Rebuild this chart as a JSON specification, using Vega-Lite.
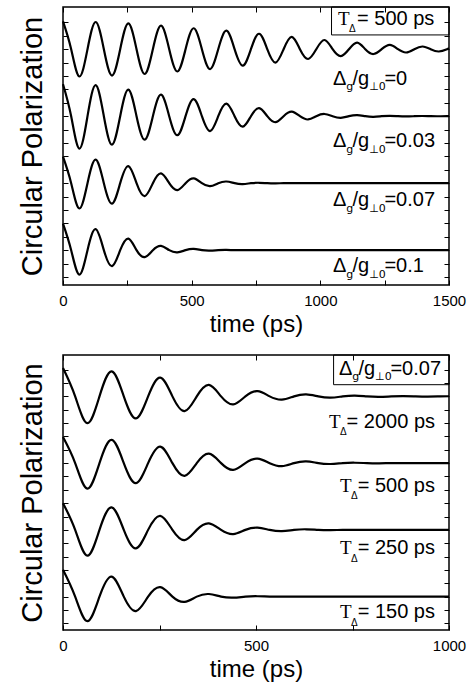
{
  "$schema": "https://vega.github.io/schema/vega-lite/v6.json",
  "background": "white",
  "padding": {"left": 17, "right": 5, "top": 5, "bottom": 5},
  "spacing": 16,
  "config": {
    "view": {"stroke": "black", "strokeWidth": 1.5},
    "axis": {"zindex": 1, "grid": false, "domain": false, "tickColor": "black", "tickWidth": 1, "tickSize": -5}
  },
  "datasets": {
    "curvesTop": [
      {"curve":"d0","time":0,"cp":3.415},{"curve":"d0","time":31.75,"cp":3},{"curve":"d0","time":63.5,"cp":2.593},{"curve":"d0","time":95.25,"cp":3},
      {"curve":"d0","time":127,"cp":3.406},{"curve":"d0","time":158.75,"cp":3},{"curve":"d0","time":190.5,"cp":2.607},{"curve":"d0","time":222.25,"cp":3},
      {"curve":"d0","time":254,"cp":3.385},{"curve":"d0","time":285.75,"cp":3},{"curve":"d0","time":317.5,"cp":2.63},{"curve":"d0","time":349.25,"cp":3},
      {"curve":"d0","time":381,"cp":3.351},{"curve":"d0","time":412.75,"cp":3},{"curve":"d0","time":444.5,"cp":2.667},{"curve":"d0","time":476.25,"cp":3},
      {"curve":"d0","time":508,"cp":3.313},{"curve":"d0","time":539.75,"cp":3},{"curve":"d0","time":571.5,"cp":2.704},{"curve":"d0","time":603.25,"cp":3},
      {"curve":"d0","time":635,"cp":3.276},{"curve":"d0","time":666.75,"cp":3},{"curve":"d0","time":698.5,"cp":2.754},{"curve":"d0","time":730.25,"cp":3},
      {"curve":"d0","time":762,"cp":3.231},{"curve":"d0","time":793.75,"cp":3},{"curve":"d0","time":825.5,"cp":2.799},{"curve":"d0","time":857.25,"cp":3},
      {"curve":"d0","time":889,"cp":3.184},{"curve":"d0","time":920.75,"cp":3},{"curve":"d0","time":952.5,"cp":2.854},{"curve":"d0","time":984.25,"cp":3},
      {"curve":"d0","time":1016,"cp":3.137},{"curve":"d0","time":1047.75,"cp":3},{"curve":"d0","time":1079.5,"cp":2.896},{"curve":"d0","time":1111.25,"cp":3},
      {"curve":"d0","time":1143,"cp":3.099},{"curve":"d0","time":1174.75,"cp":3},{"curve":"d0","time":1206.5,"cp":2.928},{"curve":"d0","time":1238.25,"cp":3},
      {"curve":"d0","time":1270,"cp":3.064},{"curve":"d0","time":1301.75,"cp":3},{"curve":"d0","time":1333.5,"cp":2.951},{"curve":"d0","time":1365.25,"cp":3},
      {"curve":"d0","time":1397,"cp":3.04},{"curve":"d0","time":1428.75,"cp":3},{"curve":"d0","time":1460.5,"cp":2.966},{"curve":"d0","time":1492.25,"cp":3},
      {"curve":"d0","time":1500,"cp":3.012},

      {"curve":"d003","time":0,"cp":2.478},{"curve":"d003","time":31.75,"cp":2},{"curve":"d003","time":63.5,"cp":1.515},{"curve":"d003","time":95.25,"cp":2},
      {"curve":"d003","time":127,"cp":2.463},{"curve":"d003","time":158.75,"cp":2},{"curve":"d003","time":190.5,"cp":1.575},{"curve":"d003","time":222.25,"cp":2},
      {"curve":"d003","time":254,"cp":2.396},{"curve":"d003","time":285.75,"cp":2},{"curve":"d003","time":317.5,"cp":1.649},{"curve":"d003","time":349.25,"cp":2},
      {"curve":"d003","time":381,"cp":2.321},{"curve":"d003","time":412.75,"cp":2},{"curve":"d003","time":444.5,"cp":1.716},{"curve":"d003","time":476.25,"cp":2},
      {"curve":"d003","time":508,"cp":2.254},{"curve":"d003","time":539.75,"cp":2},{"curve":"d003","time":571.5,"cp":1.776},{"curve":"d003","time":603.25,"cp":2},
      {"curve":"d003","time":635,"cp":2.187},{"curve":"d003","time":666.75,"cp":2},{"curve":"d003","time":698.5,"cp":1.843},{"curve":"d003","time":730.25,"cp":2},
      {"curve":"d003","time":762,"cp":2.119},{"curve":"d003","time":793.75,"cp":2},{"curve":"d003","time":825.5,"cp":1.91},{"curve":"d003","time":857.25,"cp":2},
      {"curve":"d003","time":889,"cp":2.067},{"curve":"d003","time":920.75,"cp":2},{"curve":"d003","time":952.5,"cp":1.951},{"curve":"d003","time":984.25,"cp":2},
      {"curve":"d003","time":1016,"cp":2.033},{"curve":"d003","time":1047.75,"cp":2},{"curve":"d003","time":1079.5,"cp":1.976},{"curve":"d003","time":1111.25,"cp":2},
      {"curve":"d003","time":1143,"cp":2.015},{"curve":"d003","time":1174.75,"cp":2},{"curve":"d003","time":1206.5,"cp":1.991},{"curve":"d003","time":1238.25,"cp":2},
      {"curve":"d003","time":1270,"cp":2.006},{"curve":"d003","time":1301.75,"cp":2},{"curve":"d003","time":1333.5,"cp":1.996},{"curve":"d003","time":1365.25,"cp":2},
      {"curve":"d003","time":1397,"cp":2.003},{"curve":"d003","time":1428.75,"cp":2},{"curve":"d003","time":1460.5,"cp":1.999},{"curve":"d003","time":1492.25,"cp":2},
      {"curve":"d003","time":1500,"cp":2},

      {"curve":"d007","time":0,"cp":1.396},{"curve":"d007","time":31.75,"cp":1},{"curve":"d007","time":63.5,"cp":0.622},{"curve":"d007","time":95.25,"cp":1},
      {"curve":"d007","time":127,"cp":1.351},{"curve":"d007","time":158.75,"cp":1},{"curve":"d007","time":190.5,"cp":0.694},{"curve":"d007","time":222.25,"cp":1},
      {"curve":"d007","time":254,"cp":1.254},{"curve":"d007","time":285.75,"cp":1},{"curve":"d007","time":317.5,"cp":0.806},{"curve":"d007","time":349.25,"cp":1},
      {"curve":"d007","time":381,"cp":1.146},{"curve":"d007","time":412.75,"cp":1},{"curve":"d007","time":444.5,"cp":0.896},{"curve":"d007","time":476.25,"cp":1},
      {"curve":"d007","time":508,"cp":1.072},{"curve":"d007","time":539.75,"cp":1},{"curve":"d007","time":571.5,"cp":0.955},{"curve":"d007","time":603.25,"cp":1},
      {"curve":"d007","time":635,"cp":1.025},{"curve":"d007","time":666.75,"cp":1},{"curve":"d007","time":698.5,"cp":0.987},{"curve":"d007","time":730.25,"cp":1},
      {"curve":"d007","time":762,"cp":1.006},{"curve":"d007","time":793.75,"cp":1},{"curve":"d007","time":825.5,"cp":0.997},{"curve":"d007","time":857.25,"cp":1},
      {"curve":"d007","time":889,"cp":1},{"curve":"d007","time":920.75,"cp":1},{"curve":"d007","time":952.5,"cp":1},{"curve":"d007","time":984.25,"cp":1},
      {"curve":"d007","time":1016,"cp":1},{"curve":"d007","time":1047.75,"cp":1},{"curve":"d007","time":1079.5,"cp":1},{"curve":"d007","time":1111.25,"cp":1},
      {"curve":"d007","time":1143,"cp":1},{"curve":"d007","time":1174.75,"cp":1},{"curve":"d007","time":1206.5,"cp":1},{"curve":"d007","time":1238.25,"cp":1},
      {"curve":"d007","time":1270,"cp":1},{"curve":"d007","time":1301.75,"cp":1},{"curve":"d007","time":1333.5,"cp":1},{"curve":"d007","time":1365.25,"cp":1},
      {"curve":"d007","time":1397,"cp":1},{"curve":"d007","time":1428.75,"cp":1},{"curve":"d007","time":1460.5,"cp":1},{"curve":"d007","time":1492.25,"cp":1},
      {"curve":"d007","time":1500,"cp":1},

      {"curve":"d01","time":0,"cp":0.397},{"curve":"d01","time":31.75,"cp":0},{"curve":"d01","time":63.5,"cp":-0.364},{"curve":"d01","time":95.25,"cp":0},
      {"curve":"d01","time":127,"cp":0.313},{"curve":"d01","time":158.75,"cp":0},{"curve":"d01","time":190.5,"cp":-0.239},{"curve":"d01","time":222.25,"cp":0},
      {"curve":"d01","time":254,"cp":0.173},{"curve":"d01","time":285.75,"cp":0},{"curve":"d01","time":317.5,"cp":-0.104},{"curve":"d01","time":349.25,"cp":0},
      {"curve":"d01","time":381,"cp":0.064},{"curve":"d01","time":412.75,"cp":0},{"curve":"d01","time":444.5,"cp":-0.033},{"curve":"d01","time":476.25,"cp":0},
      {"curve":"d01","time":508,"cp":0.018},{"curve":"d01","time":539.75,"cp":0},{"curve":"d01","time":571.5,"cp":-0.007},{"curve":"d01","time":603.25,"cp":0},
      {"curve":"d01","time":635,"cp":0.003},{"curve":"d01","time":666.75,"cp":0},{"curve":"d01","time":698.5,"cp":0},{"curve":"d01","time":730.25,"cp":0},
      {"curve":"d01","time":762,"cp":0},{"curve":"d01","time":793.75,"cp":0},{"curve":"d01","time":825.5,"cp":0},{"curve":"d01","time":857.25,"cp":0},
      {"curve":"d01","time":889,"cp":0},{"curve":"d01","time":920.75,"cp":0},{"curve":"d01","time":952.5,"cp":0},{"curve":"d01","time":984.25,"cp":0},
      {"curve":"d01","time":1016,"cp":0},{"curve":"d01","time":1047.75,"cp":0},{"curve":"d01","time":1079.5,"cp":0},{"curve":"d01","time":1111.25,"cp":0},
      {"curve":"d01","time":1143,"cp":0},{"curve":"d01","time":1174.75,"cp":0},{"curve":"d01","time":1206.5,"cp":0},{"curve":"d01","time":1238.25,"cp":0},
      {"curve":"d01","time":1270,"cp":0},{"curve":"d01","time":1301.75,"cp":0},{"curve":"d01","time":1333.5,"cp":0},{"curve":"d01","time":1365.25,"cp":0},
      {"curve":"d01","time":1397,"cp":0},{"curve":"d01","time":1428.75,"cp":0},{"curve":"d01","time":1460.5,"cp":0},{"curve":"d01","time":1492.25,"cp":0},
      {"curve":"d01","time":1500,"cp":0}
    ],
    "curvesBottom": [
      {"curve":"t2000","time":0,"cp":3.424},{"curve":"t2000","time":31.5,"cp":3},{"curve":"t2000","time":63,"cp":2.598},{"curve":"t2000","time":94.5,"cp":3},
      {"curve":"t2000","time":126,"cp":3.375},{"curve":"t2000","time":157.5,"cp":3},{"curve":"t2000","time":189,"cp":2.67},{"curve":"t2000","time":220.5,"cp":3},
      {"curve":"t2000","time":252,"cp":3.282},{"curve":"t2000","time":283.5,"cp":3},{"curve":"t2000","time":315,"cp":2.778},{"curve":"t2000","time":346.5,"cp":3},
      {"curve":"t2000","time":378,"cp":3.172},{"curve":"t2000","time":409.5,"cp":3},{"curve":"t2000","time":441,"cp":2.88},{"curve":"t2000","time":472.5,"cp":3},
      {"curve":"t2000","time":504,"cp":3.079},{"curve":"t2000","time":535.5,"cp":3},{"curve":"t2000","time":567,"cp":2.951},{"curve":"t2000","time":598.5,"cp":3},
      {"curve":"t2000","time":630,"cp":3.03},{"curve":"t2000","time":661.5,"cp":3},{"curve":"t2000","time":693,"cp":2.981},{"curve":"t2000","time":724.5,"cp":3},
      {"curve":"t2000","time":756,"cp":3.012},{"curve":"t2000","time":787.5,"cp":3},{"curve":"t2000","time":819,"cp":2.993},{"curve":"t2000","time":850.5,"cp":3},
      {"curve":"t2000","time":882,"cp":3.004},{"curve":"t2000","time":913.5,"cp":3},{"curve":"t2000","time":945,"cp":2.997},{"curve":"t2000","time":976.5,"cp":3},
      {"curve":"t2000","time":1000,"cp":3.002},

      {"curve":"t500","time":0,"cp":2.39},{"curve":"t500","time":31.5,"cp":2},{"curve":"t500","time":63,"cp":1.618},{"curve":"t500","time":94.5,"cp":2},
      {"curve":"t500","time":126,"cp":2.349},{"curve":"t500","time":157.5,"cp":2},{"curve":"t500","time":189,"cp":1.7},{"curve":"t500","time":220.5,"cp":2},
      {"curve":"t500","time":252,"cp":2.247},{"curve":"t500","time":283.5,"cp":2},{"curve":"t500","time":315,"cp":1.808},{"curve":"t500","time":346.5,"cp":2},
      {"curve":"t500","time":378,"cp":2.142},{"curve":"t500","time":409.5,"cp":2},{"curve":"t500","time":441,"cp":1.898},{"curve":"t500","time":472.5,"cp":2},
      {"curve":"t500","time":504,"cp":2.067},{"curve":"t500","time":535.5,"cp":2},{"curve":"t500","time":567,"cp":1.955},{"curve":"t500","time":598.5,"cp":2},
      {"curve":"t500","time":630,"cp":2.027},{"curve":"t500","time":661.5,"cp":2},{"curve":"t500","time":693,"cp":1.987},{"curve":"t500","time":724.5,"cp":2},
      {"curve":"t500","time":756,"cp":2.006},{"curve":"t500","time":787.5,"cp":2},{"curve":"t500","time":819,"cp":1.997},{"curve":"t500","time":850.5,"cp":2},
      {"curve":"t500","time":882,"cp":2},{"curve":"t500","time":913.5,"cp":2},{"curve":"t500","time":945,"cp":2},{"curve":"t500","time":976.5,"cp":2},
      {"curve":"t500","time":1000,"cp":2},

      {"curve":"t250","time":0,"cp":1.4},{"curve":"t250","time":31.5,"cp":1},{"curve":"t250","time":63,"cp":0.613},{"curve":"t250","time":94.5,"cp":1},
      {"curve":"t250","time":126,"cp":1.337},{"curve":"t250","time":157.5,"cp":1},{"curve":"t250","time":189,"cp":0.723},{"curve":"t250","time":220.5,"cp":1},
      {"curve":"t250","time":252,"cp":1.21},{"curve":"t250","time":283.5,"cp":1},{"curve":"t250","time":315,"cp":0.847},{"curve":"t250","time":346.5,"cp":1},
      {"curve":"t250","time":378,"cp":1.097},{"curve":"t250","time":409.5,"cp":1},{"curve":"t250","time":441,"cp":0.937},{"curve":"t250","time":472.5,"cp":1},
      {"curve":"t250","time":504,"cp":1.033},{"curve":"t250","time":535.5,"cp":1},{"curve":"t250","time":567,"cp":0.981},{"curve":"t250","time":598.5,"cp":1},
      {"curve":"t250","time":630,"cp":1.009},{"curve":"t250","time":661.5,"cp":1},{"curve":"t250","time":693,"cp":0.996},{"curve":"t250","time":724.5,"cp":1},
      {"curve":"t250","time":756,"cp":1},{"curve":"t250","time":787.5,"cp":1},{"curve":"t250","time":819,"cp":1},{"curve":"t250","time":850.5,"cp":1},
      {"curve":"t250","time":882,"cp":1},{"curve":"t250","time":913.5,"cp":1},{"curve":"t250","time":945,"cp":1},{"curve":"t250","time":976.5,"cp":1},
      {"curve":"t250","time":1000,"cp":1},

      {"curve":"t150","time":0,"cp":0.402},{"curve":"t150","time":31.5,"cp":0},{"curve":"t150","time":63,"cp":-0.367},{"curve":"t150","time":94.5,"cp":0},
      {"curve":"t150","time":126,"cp":0.3},{"curve":"t150","time":157.5,"cp":0},{"curve":"t150","time":189,"cp":-0.217},{"curve":"t150","time":220.5,"cp":0},
      {"curve":"t150","time":252,"cp":0.142},{"curve":"t150","time":283.5,"cp":0},{"curve":"t150","time":315,"cp":-0.079},{"curve":"t150","time":346.5,"cp":0},
      {"curve":"t150","time":378,"cp":0.039},{"curve":"t150","time":409.5,"cp":0},{"curve":"t150","time":441,"cp":-0.016},{"curve":"t150","time":472.5,"cp":0},
      {"curve":"t150","time":504,"cp":0.006},{"curve":"t150","time":535.5,"cp":0},{"curve":"t150","time":567,"cp":-0.001},{"curve":"t150","time":598.5,"cp":0},
      {"curve":"t150","time":630,"cp":0},{"curve":"t150","time":661.5,"cp":0},{"curve":"t150","time":693,"cp":0},{"curve":"t150","time":724.5,"cp":0},
      {"curve":"t150","time":756,"cp":0},{"curve":"t150","time":787.5,"cp":0},{"curve":"t150","time":819,"cp":0},{"curve":"t150","time":850.5,"cp":0},
      {"curve":"t150","time":882,"cp":0},{"curve":"t150","time":913.5,"cp":0},{"curve":"t150","time":945,"cp":0},{"curve":"t150","time":976.5,"cp":0},
      {"curve":"t150","time":1000,"cp":0}
    ],
    "boxTop": [{"t1": 1043.5, "t2": 1500, "c1": 3.213, "c2": 3.63}],
    "boxBottom": [{"t1": 701, "t2": 1000, "c1": 3.175, "c2": 3.62}],
    "labelsTop": [
      {"kind":"main","time":1049.4,"cp":2.472,"text":"Δ"},{"kind":"sub","time":1101.0,"cp":2.385,"text":"g"},{"kind":"main","time":1124.8,"cp":2.472,"text":"/g"},{"kind":"sub","time":1189.7,"cp":2.385,"text":"⊥0"},{"kind":"main","time":1249.1,"cp":2.472,"text":"=0"},
      {"kind":"main","time":1049.4,"cp":1.542,"text":"Δ"},{"kind":"sub","time":1101.0,"cp":1.452,"text":"g"},{"kind":"main","time":1124.8,"cp":1.542,"text":"/g"},{"kind":"sub","time":1189.7,"cp":1.452,"text":"⊥0"},{"kind":"main","time":1249.1,"cp":1.542,"text":"=0.03"},
      {"kind":"main","time":1049.4,"cp":0.661,"text":"Δ"},{"kind":"sub","time":1101.0,"cp":0.572,"text":"g"},{"kind":"main","time":1124.8,"cp":0.661,"text":"/g"},{"kind":"sub","time":1189.7,"cp":0.572,"text":"⊥0"},{"kind":"main","time":1249.1,"cp":0.661,"text":"=0.07"},
      {"kind":"main","time":1049.4,"cp":-0.324,"text":"Δ"},{"kind":"sub","time":1101.0,"cp":-0.413,"text":"g"},{"kind":"main","time":1124.8,"cp":-0.324,"text":"/g"},{"kind":"sub","time":1189.7,"cp":-0.413,"text":"⊥0"},{"kind":"main","time":1249.1,"cp":-0.324,"text":"=0.1"},
      {"kind":"serif","time":1068.8,"cp":3.363,"text":"T"},{"kind":"tiny","time":1111.5,"cp":3.258,"text":"Δ"},{"kind":"main","time":1142.6,"cp":3.363,"text":"= 500 ps"}
    ],
    "labelsBottom": [
      {"kind":"main","time":715.0,"cp":3.321,"text":"Δ"},{"kind":"sub","time":749.5,"cp":3.246,"text":"g"},{"kind":"main","time":765.3,"cp":3.321,"text":"/g"},{"kind":"sub","time":808.5,"cp":3.246,"text":"⊥0"},{"kind":"main","time":848.2,"cp":3.321,"text":"=0.07"},
      {"kind":"serif","time":689.1,"cp":2.519,"text":"T"},{"kind":"tiny","time":717.6,"cp":2.421,"text":"Δ"},{"kind":"main","time":734.7,"cp":2.519,"text":"= 2000 ps"},
      {"kind":"serif","time":717.6,"cp":1.567,"text":"T"},{"kind":"tiny","time":746.1,"cp":1.462,"text":"Δ"},{"kind":"main","time":763.5,"cp":1.567,"text":"= 500 ps"},
      {"kind":"serif","time":717.6,"cp":0.637,"text":"T"},{"kind":"tiny","time":746.1,"cp":0.517,"text":"Δ"},{"kind":"main","time":763.5,"cp":0.637,"text":"= 250 ps"},
      {"kind":"serif","time":717.6,"cp":-0.315,"text":"T"},{"kind":"tiny","time":746.1,"cp":-0.442,"text":"Δ"},{"kind":"main","time":763.5,"cp":-0.315,"text":"= 150 ps"}
    ]
  },
  "vconcat": [
    {
      "width": 386,
      "height": 278,
      "layer": [
        {
          "data": {"name": "curvesTop"},
          "mark": {"type": "line", "interpolate": "natural", "color": "black", "strokeWidth": 2.2},
          "encoding": {
            "x": {"field": "time", "type": "quantitative", "scale": {"domain": [0, 1500], "nice": false, "zero": false},
                  "axis": {"orient": "bottom", "values": [0, 250, 500, 750, 1000, 1250, 1500], "format": "d", "labelExpr": "datum.value % 500 === 0 ? datum.label : ''", "labelFlush": false, "labelFont": "Liberation Sans", "labelFontSize": 15, "labelColor": "black", "labelPadding": 13, "title": "time (ps)", "titleFont": "Liberation Sans", "titleFontSize": 24, "titleFontWeight": "normal", "titleColor": "black", "titlePadding": 4}},
            "y": {"field": "cp", "type": "quantitative", "scale": {"domain": [-0.52, 3.63], "nice": false, "zero": false},
                  "axis": {"orient": "left", "values": [-0.4,-0.2,0,0.2,0.4,0.6,0.8,1,1.2,1.4,1.6,1.8,2,2.2,2.4,2.6,2.8,3,3.2,3.4], "labels": false, "title": "Circular Polarization", "titleFont": "Liberation Sans", "titleFontSize": 29, "titleFontWeight": "normal", "titleColor": "black", "titlePadding": 15}},
            "detail": {"field": "curve", "type": "nominal"}
          }
        },
        {
          "data": {"name": "boxTop"},
          "mark": {"type": "rect", "filled": false, "stroke": "black", "strokeWidth": 1},
          "encoding": {
            "x": {"field": "t1", "type": "quantitative", "scale": {"domain": [0, 1500], "nice": false, "zero": false},
                  "axis": {"orient": "top", "values": [0, 250, 500, 750, 1000, 1250, 1500], "labels": false, "title": null}},
            "x2": {"field": "t2"},
            "y": {"field": "c1", "type": "quantitative", "scale": {"domain": [-0.52, 3.63], "nice": false, "zero": false},
                  "axis": {"orient": "right", "values": [-0.4,-0.2,0,0.2,0.4,0.6,0.8,1,1.2,1.4,1.6,1.8,2,2.2,2.4,2.6,2.8,3,3.2,3.4], "labels": false, "title": null}},
            "y2": {"field": "c2"}
          }
        },
        {
          "data": {"name": "labelsTop"},
          "transform": [{"filter": "datum.kind === 'main'"}],
          "mark": {"type": "text", "align": "left", "baseline": "alphabetic", "font": "Liberation Sans", "fontSize": 20, "color": "black"},
          "encoding": {
            "x": {"field": "time", "type": "quantitative", "scale": {"domain": [0, 1500], "nice": false, "zero": false}, "axis": null},
            "y": {"field": "cp", "type": "quantitative", "scale": {"domain": [-0.52, 3.63], "nice": false, "zero": false}, "axis": null},
            "text": {"field": "text"}
          }
        },
        {
          "data": {"name": "labelsTop"},
          "transform": [{"filter": "datum.kind === 'sub'"}],
          "mark": {"type": "text", "align": "left", "baseline": "alphabetic", "font": "DejaVu Sans", "fontSize": 11, "color": "black"},
          "encoding": {
            "x": {"field": "time", "type": "quantitative", "scale": {"domain": [0, 1500], "nice": false, "zero": false}, "axis": null},
            "y": {"field": "cp", "type": "quantitative", "scale": {"domain": [-0.52, 3.63], "nice": false, "zero": false}, "axis": null},
            "text": {"field": "text"}
          }
        },
        {
          "data": {"name": "labelsTop"},
          "transform": [{"filter": "datum.kind === 'tiny'"}],
          "mark": {"type": "text", "align": "left", "baseline": "alphabetic", "font": "Liberation Sans", "fontSize": 10, "color": "black"},
          "encoding": {
            "x": {"field": "time", "type": "quantitative", "scale": {"domain": [0, 1500], "nice": false, "zero": false}, "axis": null},
            "y": {"field": "cp", "type": "quantitative", "scale": {"domain": [-0.52, 3.63], "nice": false, "zero": false}, "axis": null},
            "text": {"field": "text"}
          }
        },
        {
          "data": {"name": "labelsTop"},
          "transform": [{"filter": "datum.kind === 'serif'"}],
          "mark": {"type": "text", "align": "left", "baseline": "alphabetic", "font": "Liberation Serif", "fontSize": 19, "color": "black"},
          "encoding": {
            "x": {"field": "time", "type": "quantitative", "scale": {"domain": [0, 1500], "nice": false, "zero": false}, "axis": null},
            "y": {"field": "cp", "type": "quantitative", "scale": {"domain": [-0.52, 3.63], "nice": false, "zero": false}, "axis": null},
            "text": {"field": "text"}
          }
        }
      ],
      "resolve": {"axis": {"x": "independent", "y": "independent"}}
    },
    {
      "width": 386,
      "height": 275,
      "layer": [
        {
          "data": {"name": "curvesBottom"},
          "mark": {"type": "line", "interpolate": "natural", "color": "black", "strokeWidth": 2.2},
          "encoding": {
            "x": {"field": "time", "type": "quantitative", "scale": {"domain": [0, 1000], "nice": false, "zero": false},
                  "axis": {"orient": "bottom", "values": [0, 250, 500, 750, 1000], "format": "d", "labelExpr": "datum.value % 500 === 0 ? datum.label : ''", "labelFlush": false, "labelFont": "Liberation Sans", "labelFontSize": 15, "labelColor": "black", "labelPadding": 13, "title": "time (ps)", "titleFont": "Liberation Sans", "titleFontSize": 24, "titleFontWeight": "normal", "titleColor": "black", "titlePadding": 4}},
            "y": {"field": "cp", "type": "quantitative", "scale": {"domain": [-0.5, 3.62], "nice": false, "zero": false},
                  "axis": {"orient": "left", "values": [-0.4,-0.2,0,0.2,0.4,0.6,0.8,1,1.2,1.4,1.6,1.8,2,2.2,2.4,2.6,2.8,3,3.2,3.4], "labels": false, "title": "Circular Polarization", "titleFont": "Liberation Sans", "titleFontSize": 29, "titleFontWeight": "normal", "titleColor": "black", "titlePadding": 15}},
            "detail": {"field": "curve", "type": "nominal"}
          }
        },
        {
          "data": {"name": "boxBottom"},
          "mark": {"type": "rect", "filled": false, "stroke": "black", "strokeWidth": 1},
          "encoding": {
            "x": {"field": "t1", "type": "quantitative", "scale": {"domain": [0, 1000], "nice": false, "zero": false},
                  "axis": {"orient": "top", "values": [0, 250, 500, 750, 1000], "labels": false, "title": null}},
            "x2": {"field": "t2"},
            "y": {"field": "c1", "type": "quantitative", "scale": {"domain": [-0.5, 3.62], "nice": false, "zero": false},
                  "axis": {"orient": "right", "values": [-0.4,-0.2,0,0.2,0.4,0.6,0.8,1,1.2,1.4,1.6,1.8,2,2.2,2.4,2.6,2.8,3,3.2,3.4], "labels": false, "title": null}},
            "y2": {"field": "c2"}
          }
        },
        {
          "data": {"name": "labelsBottom"},
          "transform": [{"filter": "datum.kind === 'main'"}],
          "mark": {"type": "text", "align": "left", "baseline": "alphabetic", "font": "Liberation Sans", "fontSize": 20, "color": "black"},
          "encoding": {
            "x": {"field": "time", "type": "quantitative", "scale": {"domain": [0, 1000], "nice": false, "zero": false}, "axis": null},
            "y": {"field": "cp", "type": "quantitative", "scale": {"domain": [-0.5, 3.62], "nice": false, "zero": false}, "axis": null},
            "text": {"field": "text"}
          }
        },
        {
          "data": {"name": "labelsBottom"},
          "transform": [{"filter": "datum.kind === 'sub'"}],
          "mark": {"type": "text", "align": "left", "baseline": "alphabetic", "font": "DejaVu Sans", "fontSize": 11, "color": "black"},
          "encoding": {
            "x": {"field": "time", "type": "quantitative", "scale": {"domain": [0, 1000], "nice": false, "zero": false}, "axis": null},
            "y": {"field": "cp", "type": "quantitative", "scale": {"domain": [-0.5, 3.62], "nice": false, "zero": false}, "axis": null},
            "text": {"field": "text"}
          }
        },
        {
          "data": {"name": "labelsBottom"},
          "transform": [{"filter": "datum.kind === 'tiny'"}],
          "mark": {"type": "text", "align": "left", "baseline": "alphabetic", "font": "Liberation Sans", "fontSize": 10, "color": "black"},
          "encoding": {
            "x": {"field": "time", "type": "quantitative", "scale": {"domain": [0, 1000], "nice": false, "zero": false}, "axis": null},
            "y": {"field": "cp", "type": "quantitative", "scale": {"domain": [-0.5, 3.62], "nice": false, "zero": false}, "axis": null},
            "text": {"field": "text"}
          }
        },
        {
          "data": {"name": "labelsBottom"},
          "transform": [{"filter": "datum.kind === 'serif'"}],
          "mark": {"type": "text", "align": "left", "baseline": "alphabetic", "font": "Liberation Serif", "fontSize": 19, "color": "black"},
          "encoding": {
            "x": {"field": "time", "type": "quantitative", "scale": {"domain": [0, 1000], "nice": false, "zero": false}, "axis": null},
            "y": {"field": "cp", "type": "quantitative", "scale": {"domain": [-0.5, 3.62], "nice": false, "zero": false}, "axis": null},
            "text": {"field": "text"}
          }
        }
      ],
      "resolve": {"axis": {"x": "independent", "y": "independent"}}
    }
  ]
}
